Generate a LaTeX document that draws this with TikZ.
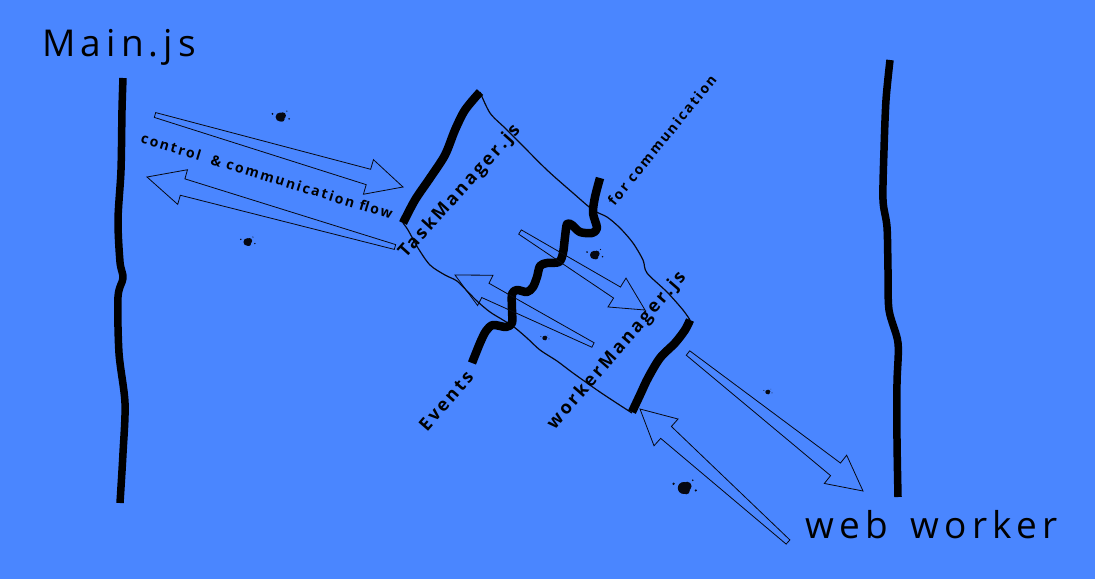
\documentclass[tikz,border=0pt]{standalone}
\usepackage{fontspec}
\setmainfont{Open Sans}
\newfontfamily\titlefont[LetterSpace=14]{Open Sans}
\newfontfamily\labelfont[LetterSpace=14]{Open Sans}
\usetikzlibrary{calc}
\definecolor{bg}{RGB}{74,134,255}
\definecolor{ink}{RGB}{6,8,18}
% hollow tapered arrow: tail, tip, tail half width, shaft half width at head, head length, head half width (all in pt)
\newcommand\hollowarrow[6]{%
  \coordinate (ha-h) at ($(#2)!#5pt!(#1)$);
  \draw[arrowline] ($(#1)!#3pt!90:(#2)$) -- ($(ha-h)!#4pt!90:(#2)$) -- ($(ha-h)!#6pt!90:(#2)$) -- (#2)
    -- ($(ha-h)!#6pt!-90:(#2)$) -- ($(ha-h)!#4pt!-90:(#2)$) -- ($(#1)!#3pt!-90:(#2)$) -- cycle;
}
\newcommand\inkblot[2]{% centre, radius
  \fill[ink] ($(#1)+(-0.2*#2,0)$) circle[radius=#2];
  \fill[ink] ($(#1)+(0.35*#2,-0.3*#2)$) circle[radius=0.75*#2];
  \fill[ink] ($(#1)+(0.2*#2,0.45*#2)$) circle[radius=0.6*#2];
  \fill[ink] ($(#1)+(-1.9*#2,-0.7*#2)$) circle[radius=0.22*#2];
  \fill[ink] ($(#1)+(1.8*#2,0.4*#2)$) circle[radius=0.2*#2];
  \fill[ink] ($(#1)+(1.3*#2,-1.3*#2)$) circle[radius=0.15*#2];
}
\begin{document}
\begin{tikzpicture}[x=1pt,y=-1pt,
  arrowline/.style={draw=ink,line width=0.8pt,line join=miter},
  thickedge/.style={draw=black,line width=8.5pt,line cap=butt,line join=round},
  borderline/.style={draw=black,line width=7.5pt,line cap=butt,line join=round},
  thinedge/.style={draw=ink,line width=1.2pt,line join=round},
  titletext/.style={font=\titlefont\fontsize{37}{40}\selectfont,text=black,inner sep=0pt},
  biglabel/.style={font=\labelfont\bfseries\fontsize{18}{19}\selectfont,text=black,inner sep=0pt},
  smalllabel/.style={font=\labelfont\bfseries\fontsize{14}{15}\selectfont,text=black,inner sep=0pt}]
\useasboundingbox (0,0) rectangle (1095,579);
\fill[bg] (0,0) rectangle (1095,579);

% titles
\node[titletext,anchor=base west] (mainjs) at (42,56) {Main.js};
\node[titletext,anchor=base west] (webworker) at (805,538) {web\hspace{0.62em}worker};

% vertical borders
\draw[borderline] plot[smooth] coordinates {(123,78) (122,110) (121,170) (118,220) (120,262) (123,278) (118,297) (119,353) (125,403) (123,453) (120,503)};
\draw[borderline] plot[smooth] coordinates {(890,60) (886,100) (884,150) (883,200) (887,227) (888,270) (889,310) (898,343) (897,383) (897,440) (898,497)};

% torn strip thin edges
\draw[thinedge] plot[smooth] coordinates {(480,92) (490,113) (505,128) (520,143) (547,170) (573,193) (593,210) (607,217) (620,228) (633,243) (643,260) (647,273) (667,292) (683,310) (690,320)};
\draw[thinedge] plot[smooth] coordinates {(403,223) (408,230) (418,248) (430,265) (445,275) (457,281) (468,292) (478,302) (490,312) (503,320) (514,327) (527,338) (540,350) (557,361) (573,373) (597,390) (615,402) (632,413)};

% thick edges
\draw[thickedge] plot[smooth] coordinates {(403,223) (415,200) (430,178) (445,155) (455,130) (465,110) (480,92)};
\draw[thickedge] plot[smooth] coordinates {(632,412) (640,395) (648,378) (660,358) (675,343) (685,330) (690,320)};
\draw[thickedge] plot[smooth,tension=0.5] coordinates {(600,178) (595,197) (593,213) (597,228) (592,233) (580,232) (572,225) (567,224) (565,237) (563,253) (559,262) (547,263) (540,266) (537,277) (533,287) (527,292) (517,290) (512,294) (512,310) (512,323) (506,327) (493,325) (486,331) (480,343) (472,363)};

% hollow arrows
\coordinate (a1t) at (155,115); \coordinate (a1h) at (403,187);
\coordinate (a2t) at (395,247); \coordinate (a2h) at (147,177);
\coordinate (a3t) at (520,232); \coordinate (a3h) at (645,310);
\coordinate (a4t) at (593,345); \coordinate (a4h) at (455,275);
\coordinate (a5t) at (688,353); \coordinate (a5h) at (863,491);
\coordinate (a6t) at (788,542); \coordinate (a6h) at (640,409);
\hollowarrow{a1t}{a1h}{2.5}{8}{36}{18}
\hollowarrow{a2t}{a2h}{2.5}{8.5}{37}{18}
\hollowarrow{a3t}{a3h}{2.5}{6.5}{33}{17}
\hollowarrow{a4t}{a4h}{2.5}{8}{34}{17}
\hollowarrow{a5t}{a5h}{2.8}{8}{35}{18}
\hollowarrow{a6t}{a6h}{2.8}{8}{35}{18}

% ink blots
\inkblot{281,117}{4.5}
\inkblot{248,242}{3.8}
\inkblot{595,255}{4.2}
\inkblot{685,488}{6}
\inkblot{545,338}{2.2}
\inkblot{768,392}{2.2}

% labels
\node[smalllabel,rotate=-17] (flow) at (267,176) {control\ \ \& communication flow};
\node[biglabel,rotate=48] (task) at (460,192) {TaskManager.js};
\node[smalllabel,rotate=51] (forcomm) at (662,140) {for communication};
\node[biglabel,rotate=49] (worker) at (617,351) {workerManager.js};
\node[biglabel,rotate=49] (events) at (446,401) {Events};
\end{tikzpicture}
\end{document}
